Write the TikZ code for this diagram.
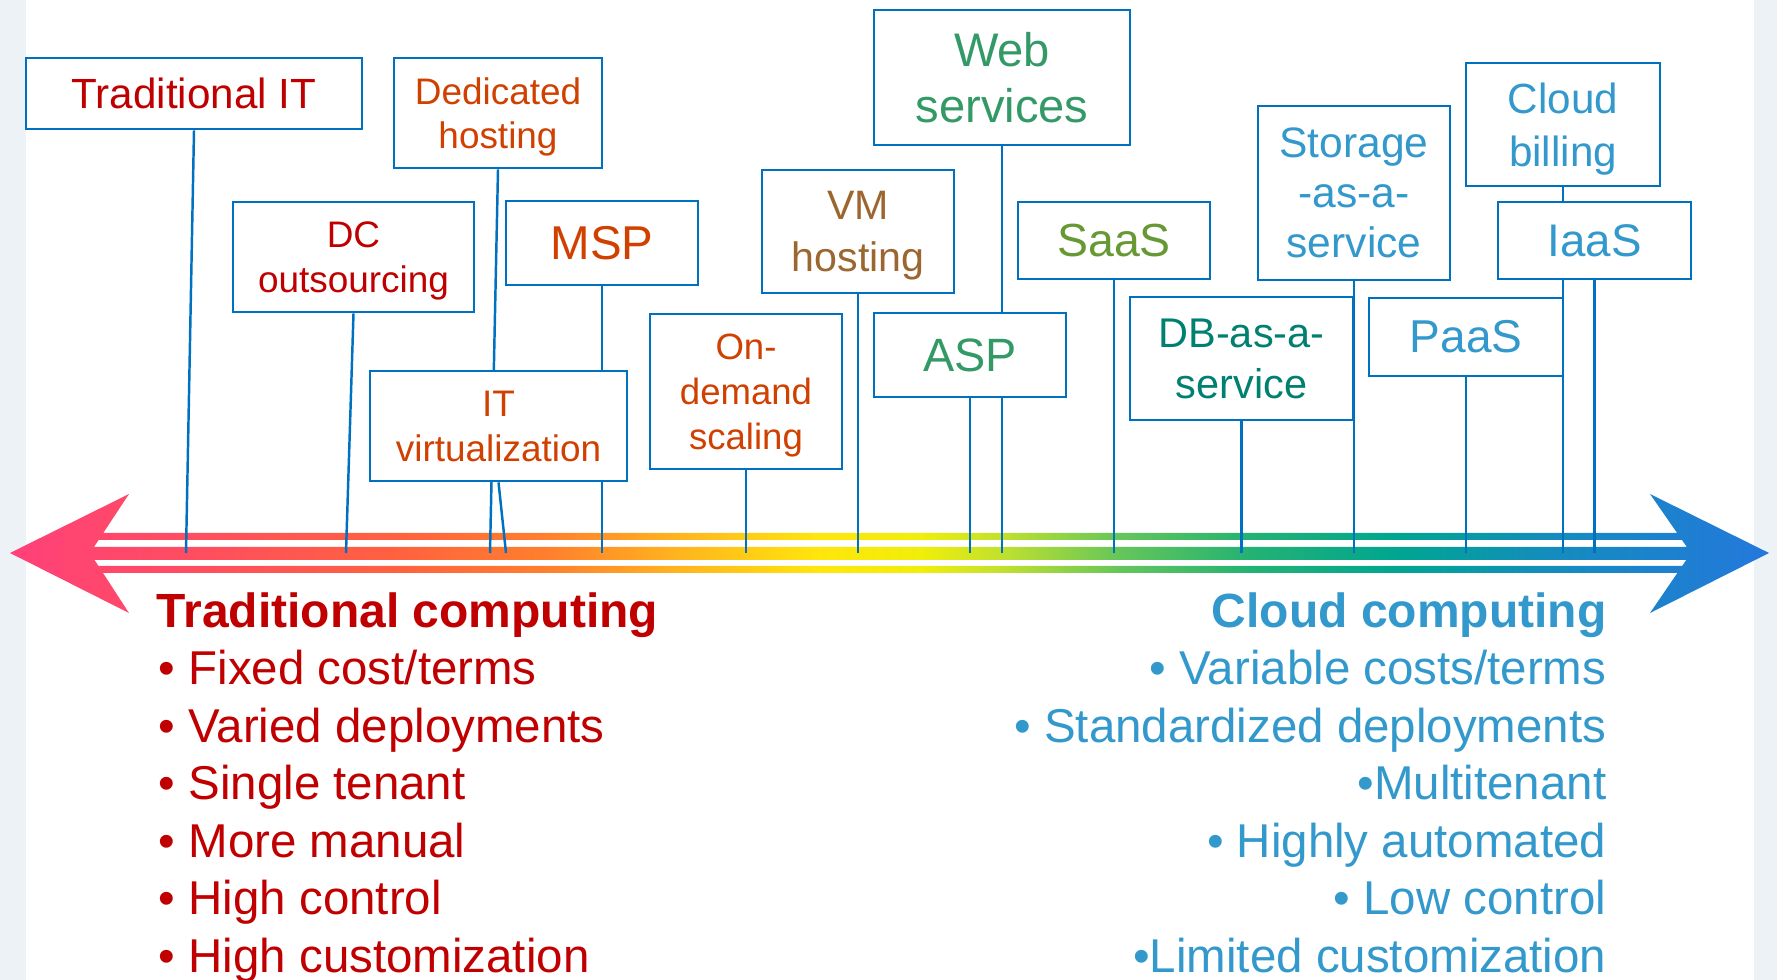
\documentclass[tikz,border=0pt]{standalone}
\usepackage{fontspec}
\setmainfont{Liberation Sans}

% text and line colours
\definecolor{linkblue}{RGB}{0,112,192}
\definecolor{tradred}{RGB}{192,0,0}
\definecolor{hostorange}{RGB}{208,64,0}
\definecolor{vmbrown}{RGB}{156,102,48}
\definecolor{webgreen}{RGB}{51,153,102}
\definecolor{saasgreen}{RGB}{102,153,51}
\definecolor{dbteal}{RGB}{0,128,112}
\definecolor{cloudblue}{RGB}{51,153,204}
\definecolor{sidegray}{RGB}{237,242,246}

% colours of the spectrum arrow, left to right
\definecolor{sp0}{RGB}{255,64,122}
\definecolor{sp1}{RGB}{255,78,95}
\definecolor{sp2}{RGB}{255,98,62}
\definecolor{sp3}{RGB}{255,128,45}
\definecolor{sp4}{RGB}{255,180,30}
\definecolor{sp5}{RGB}{255,230,12}
\definecolor{sp6}{RGB}{240,238,10}
\definecolor{sp7}{RGB}{195,225,45}
\definecolor{sp8}{RGB}{100,198,90}
\definecolor{sp9}{RGB}{35,178,115}
\definecolor{sp10}{RGB}{0,165,145}
\definecolor{sp11}{RGB}{20,140,190}
\definecolor{sp12}{RGB}{36,120,220}

\pgfdeclarehorizontalshading{spectrum}{100bp}{%
  color(0bp)=(sp0); color(25bp)=(sp0); color(30.4bp)=(sp1);
  color(36.1bp)=(sp2); color(40.35bp)=(sp3); color(44bp)=(sp4);
  color(48bp)=(sp5); color(50.9bp)=(sp6); color(53.1bp)=(sp7);
  color(56.55bp)=(sp8); color(60.25bp)=(sp9); color(64.5bp)=(sp10);
  color(68.8bp)=(sp11); color(75bp)=(sp12); color(100bp)=(sp12)}

\pgfdeclarelayer{arrowlayer}
\pgfdeclarelayer{linklayer}
\pgfsetlayers{arrowlayer,linklayer,main}

\tikzset{
  box/.style={draw=linkblue, line width=0.75pt, fill=white, inner sep=0pt, align=center},
  flatbox/.style={box, text depth=0pt},
  link/.style={draw=linkblue, line width=0.7pt},
  lefttxt/.style={anchor=base west, inner sep=0pt, text=tradred},
  righttxt/.style={anchor=base east, inner sep=0pt, text=cloudblue},
  listfont/.style={font=\fontsize{13.5}{16}\selectfont},
  headfont/.style={font=\fontsize{13.65}{16}\selectfont\bfseries},
}

\begin{document}
\begin{tikzpicture}[x=0.01cm, y=-0.01cm]
\useasboundingbox (0,0) rectangle (1777,980);

% side strips and the double-headed spectrum arrow
\begin{pgfonlayer}{arrowlayer}
  \fill[sidegray] (0,0) rectangle (26,980);
  \fill[sidegray] (1754,0) rectangle (1777,980);
  \begin{scope}
    \clip (10,553) -- (129,494) -- (90,553) -- (129,613) -- cycle
          (90,533) -- (1691,533) -- (1691,540) -- (90,540) -- cycle
          (90,547) -- (1691,547) -- (1691,560) -- (90,560) -- cycle
          (90,566) -- (1691,566) -- (1691,573) -- (90,573) -- cycle
          (1769,553) -- (1650,613) -- (1691,553) -- (1650,494) -- cycle;
    \shade[shading=spectrum] (10,494) rectangle (1769,613);
  \end{scope}
\end{pgfonlayer}

% labelled boxes
\node[box, minimum width=3.36cm, minimum height=0.71cm, text=tradred,
      font=\fontsize{12}{14}\selectfont] (tradIT) at (194,93.5) {Traditional IT};
\node[flatbox, minimum width=2.08cm, minimum height=1.10cm, text=hostorange,
      font=\fontsize{10.5}{12.5}\selectfont] (dedicated) at (498,113) {Dedicated\\hosting};
\node[flatbox, minimum width=2.41cm, minimum height=1.10cm, text=tradred,
      font=\fontsize{10.5}{12.8}\selectfont] (dcout) at (353.5,257) {DC\\outsourcing};
\node[box, minimum width=1.92cm, minimum height=0.84cm, text=hostorange,
      font=\fontsize{13.5}{16}\selectfont] (msp) at (602,243) {MSP};
\node[box, minimum width=2.57cm, minimum height=1.10cm, text=hostorange,
      font=\fontsize{10.5}{12.8}\selectfont] (itvirt) at (498.5,426) {IT\\virtualization};
\node[flatbox, minimum width=1.92cm, minimum height=1.55cm, text=hostorange,
      font=\fontsize{10.4}{12.8}\selectfont] (ondemand) at (746,391.5) {On-\\demand\\scaling};
\node[flatbox, minimum width=1.92cm, minimum height=1.23cm, text=vmbrown,
      font=\fontsize{11.7}{14.8}\selectfont] (vmhost) at (858,231.5) {VM\\hosting};
\node[box, minimum width=2.56cm, minimum height=1.35cm, text=webgreen,
      font=\fontsize{13.4}{15.9}\selectfont] (websvc) at (1002,77.5) {Web\\services};
\node[box, minimum width=1.92cm, minimum height=0.84cm, text=webgreen,
      font=\fontsize{13.3}{16}\selectfont] (asp) at (970,355) {ASP};
\node[box, minimum width=1.92cm, minimum height=0.77cm, text=saasgreen,
      font=\fontsize{13.2}{16}\selectfont] (saas) at (1114,240.5) {SaaS};
\node[box, minimum width=2.23cm, minimum height=1.23cm, text=dbteal,
      font=\fontsize{11.8}{14.5}\selectfont] (dbaas) at (1241.5,358.5) {DB-as-a-\\service};
\node[box, minimum width=1.92cm, minimum height=1.74cm, text=cloudblue,
      font=\fontsize{12.1}{14.2}\selectfont] (staas) at (1354,193) {Storage\\-as-a-\\service};
\node[flatbox, minimum width=1.94cm, minimum height=1.23cm, text=cloudblue,
      font=\fontsize{12}{15}\selectfont] (billing) at (1563,124.5) {Cloud\\billing};
\node[box, minimum width=1.93cm, minimum height=0.77cm, text=cloudblue,
      font=\fontsize{13}{16}\selectfont] (iaas) at (1594.5,240.5) {IaaS};
\node[box, minimum width=1.94cm, minimum height=0.78cm, text=cloudblue,
      font=\fontsize{13.1}{16}\selectfont] (paas) at (1466,337) {PaaS};

% points where the connectors meet the arrow
\coordinate (tradIT-end) at (186,553);
\coordinate (dcout-end) at (346,553);
\coordinate (dedicated-end) at (490,553);
\coordinate (itvirt-end) at (506,553);
\coordinate (msp-end) at (602,553);
\coordinate (ondemand-end) at (746,553);
\coordinate (vmhost-end) at (858,553);
\coordinate (asp-end) at (970,553);
\coordinate (websvc-end) at (1002,553);
\coordinate (saas-end) at (1114,553);
\coordinate (dbaas-end) at (1241.5,553);
\coordinate (staas-end) at (1354,553);
\coordinate (paas-end) at (1466,553);
\coordinate (billing-end) at (1563,553);
\coordinate (iaas-end) at (1594.5,553);

% connectors, drawn beneath the boxes
\begin{pgfonlayer}{linklayer}
  \foreach \n in {tradIT,dcout,dedicated,itvirt,msp,ondemand,vmhost,asp,
                  websvc,saas,dbaas,staas,paas,billing,iaas}
    \draw[link] (\n.south) -- (\n-end);
\end{pgfonlayer}

% traditional computing traits
\node[lefttxt, headfont] (tradhead) at (156,627) {Traditional computing};
\node[lefttxt, listfont] (trad1) at (158,684) {• Fixed cost/terms};
\node[lefttxt, listfont] (trad2) at (158,742) {• Varied deployments};
\node[lefttxt, listfont] (trad3) at (158,799) {• Single tenant};
\node[lefttxt, listfont] (trad4) at (158,857) {• More manual};
\node[lefttxt, listfont] (trad5) at (158,914) {• High control};
\node[lefttxt, listfont] (trad6) at (158,972) {• High customization};

% cloud computing traits
\node[righttxt, headfont] (cloudhead) at (1607,627) {Cloud computing};
\node[righttxt, listfont] (cloud1) at (1607,684) {• Variable costs/terms};
\node[righttxt, listfont] (cloud2) at (1607,742) {• Standardized deployments};
\node[righttxt, listfont] (cloud3) at (1607,799) {•Multitenant};
\node[righttxt, listfont] (cloud4) at (1607,857) {• Highly automated};
\node[righttxt, listfont] (cloud5) at (1607,914) {• Low control};
\node[righttxt, listfont] (cloud6) at (1607,972) {•Limited customization};
\end{tikzpicture}
\end{document}
